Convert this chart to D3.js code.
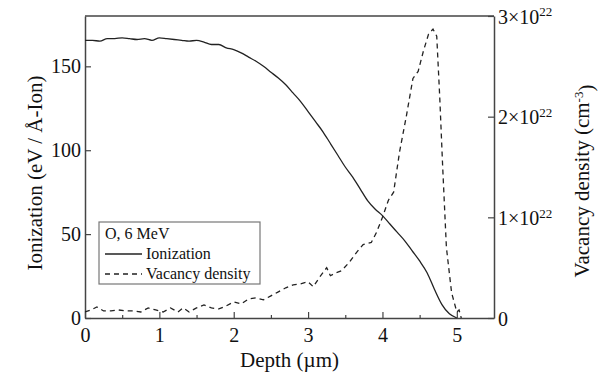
<!DOCTYPE html>
<html>
<head>
<meta charset="utf-8">
<script src="https://cdn.jsdelivr.net/npm/d3@7"></script>
<style>
  body { margin: 0; background: #fff; }
  svg { display: block; }
  svg text { font-family: "Liberation Serif", "DejaVu Serif", serif; }
</style>
</head>
<body>
<div id="chart"></div>
<script>
// ionization (eV / Å-Ion) vs depth (µm)
const ionDepth = [0, 0.1, 0.2, 0.3, 0.4, 0.5, 0.6, 0.7, 0.8, 0.9, 1.0, 1.1, 1.2, 1.3, 1.4, 1.5, 1.6, 1.7, 1.8, 1.9,
   2.0, 2.1, 2.2, 2.3, 2.4, 2.5, 2.6, 2.7, 2.8, 2.9, 3.0, 3.1, 3.2, 3.3, 3.4, 3.5, 3.6, 3.7, 3.8, 3.9,
   4.0, 4.1, 4.2, 4.3, 4.4, 4.5, 4.6, 4.7, 4.8, 4.9, 5.0];
const ionValue = [165.5, 165.5, 165, 166.5, 166.5, 167, 166.5, 166, 166.5, 165.5, 167, 166.5, 166, 165.5, 165, 165.5, 164.5, 163, 163, 161,
   160, 158, 155.5, 153, 150, 146.5, 143, 139, 134, 129, 123, 117, 111, 104, 97, 90, 84, 77, 70, 65,
   61, 56, 51, 46, 40, 34, 27, 17, 8, 2.5, 0];

// vacancy density (x 1e22 cm^-3) vs depth (µm)
const vacDepth = [0, 0.08, 0.16, 0.25, 0.35, 0.45, 0.55, 0.65, 0.75, 0.85, 0.95, 1.05, 1.15, 1.25, 1.32, 1.4, 1.5, 1.6, 1.7, 1.8, 1.9,
   2.0, 2.1, 2.2, 2.3, 2.4, 2.5, 2.6, 2.7, 2.8, 2.9, 3.0, 3.07, 3.15, 3.25, 3.3, 3.38, 3.45, 3.55, 3.65, 3.74, 3.85, 3.92,
   4.0, 4.08, 4.15, 4.23, 4.32, 4.41, 4.48, 4.55, 4.62, 4.68, 4.73, 4.77, 4.81, 4.86, 4.93, 5.0, 5.03, 5.06];
const vacValue = [0.06, 0.08, 0.11, 0.07, 0.07, 0.08, 0.07, 0.07, 0.06, 0.1, 0.08, 0.06, 0.1, 0.06, 0.1, 0.06, 0.1, 0.13, 0.1, 0.09, 0.12,
   0.16, 0.14, 0.19, 0.2, 0.18, 0.22, 0.26, 0.3, 0.33, 0.34, 0.36, 0.31, 0.4, 0.5, 0.42, 0.45, 0.47, 0.55, 0.65, 0.73, 0.75, 0.85,
   1.0, 1.17, 1.25, 1.65, 2.0, 2.38, 2.45, 2.65, 2.82, 2.87, 2.8, 2.2, 1.5, 0.7, 0.25, 0.06, 0.08, 0];

const xTicks = [0, 1, 2, 3, 4, 5];
const xMinorTicks = [0.5, 1.5, 2.5, 3.5, 4.5];
const yLeftTicks = [0, 50, 100, 150];
const yRightTicks = [0, 1, 2, 3];

const width = 598, height = 378;
const margin = { top: 16, right: 104, bottom: 60, left: 85 };
const axisColor = "#444";
const lineColor = "#222";
const serif = '"Liberation Serif", "DejaVu Serif", serif';

const svg = d3.select("#chart").append("svg")
   .attr("width", width)
   .attr("height", height);

const x = d3.scaleLinear().domain([0, 5.5]).range([margin.left, width - margin.right]);
const yL = d3.scaleLinear().domain([0, 180]).range([height - margin.bottom, margin.top]);
const yR = d3.scaleLinear().domain([0, 3]).range([height - margin.bottom, margin.top]);

const x0 = margin.left, x1 = width - margin.right;
const yb = height - margin.bottom, yt = margin.top;

// frame top
svg.append("line")
   .attr("x1", x0).attr("x2", x1).attr("y1", yt).attr("y2", yt)
   .attr("stroke", axisColor).attr("stroke-width", 1.5);

const styleAxis = g => {
   g.select(".domain").attr("stroke", axisColor).attr("stroke-width", 1.5);
   g.selectAll(".tick line").attr("stroke", axisColor).attr("stroke-width", 1.2);
   g.selectAll(".tick text").attr("fill", "#111")
      .style("font-family", serif)
      .style("font-size", "20px");
};

// bottom axis (inward ticks)
svg.append("g")
   .attr("transform", `translate(0,${yb})`)
   .call(d3.axisBottom(x).tickValues(xTicks).tickSizeInner(-6).tickSizeOuter(0).tickPadding(10).tickFormat(d3.format("d")))
   .call(styleAxis);

svg.append("g")
   .attr("transform", `translate(0,${yb})`)
   .call(d3.axisBottom(x).tickValues(xMinorTicks).tickSize(-3).tickFormat(""))
   .call(g => g.select(".domain").remove())
   .call(g => g.selectAll(".tick line").attr("stroke", axisColor).attr("stroke-width", 1.2));

// left axis
svg.append("g")
   .attr("transform", `translate(${x0},0)`)
   .call(d3.axisLeft(yL).tickValues(yLeftTicks).tickSizeInner(-6).tickSizeOuter(0).tickPadding(4))
   .call(styleAxis);

// right axis
const rightAxis = svg.append("g")
   .attr("transform", `translate(${x1},0)`)
   .call(d3.axisRight(yR).tickValues(yRightTicks).tickSizeInner(-6).tickSizeOuter(0).tickPadding(4).tickFormat(""))
   .call(styleAxis);

rightAxis.selectAll(".tick text").each(function (d) {
   const t = d3.select(this).attr("dy", "0.35em");
   if (d === 0) {
      t.text("0");
   } else {
      t.text(`${d}×10`);
      t.append("tspan").attr("dy", "-0.55em").style("font-size", "13px").text("22");
   }
});

// axis titles
svg.append("text")
   .attr("x", (x0 + x1) / 2).attr("y", 367)
   .attr("text-anchor", "middle")
   .style("font-size", "21px").attr("fill", "#111")
   .text("Depth (µm)");

svg.append("text")
   .attr("transform", "translate(42,173) rotate(-90)")
   .attr("text-anchor", "middle")
   .style("font-size", "21px").attr("fill", "#111")
   .text("Ionization (eV / Å-Ion)");

const rt = svg.append("text")
   .attr("transform", "translate(589,181) rotate(-90)")
   .attr("text-anchor", "middle")
   .style("font-size", "21px").attr("fill", "#111");
rt.append("tspan").text("Vacancy density (cm");
rt.append("tspan").attr("dy", "-0.5em").style("font-size", "13px").text("-3");
rt.append("tspan").attr("dy", "0.5em").text(")");

// curves
const ionLine = d3.line().curve(d3.curveMonotoneX).x(i => x(ionDepth[i])).y(i => yL(ionValue[i]));
svg.append("path")
   .attr("d", ionLine(d3.range(ionDepth.length)))
   .attr("fill", "none").attr("stroke", lineColor).attr("stroke-width", 1.3)
   .attr("stroke-linejoin", "round");

const vacLine = d3.line().x(i => x(vacDepth[i])).y(i => yR(vacValue[i]));
svg.append("path")
   .attr("d", vacLine(d3.range(vacDepth.length)))
   .attr("fill", "none").attr("stroke", lineColor).attr("stroke-width", 1.3)
   .attr("stroke-dasharray", "5,4");

// legend
const lg = svg.append("g").attr("transform", "translate(99,222)");
lg.append("rect")
   .attr("width", 161).attr("height", 62)
   .attr("fill", "#fff").attr("stroke", "#777").attr("stroke-width", 1.2);
lg.append("text").attr("x", 6).attr("y", 17).style("font-size", "16px").attr("fill", "#111").text("O, 6 MeV");
const legendItems = [["Ionization", null, 37], ["Vacancy density", "5,4", 57]];
legendItems.forEach(([label, dash, yy]) => {
   lg.append("line")
      .attr("x1", 6).attr("x2", 43).attr("y1", yy - 5).attr("y2", yy - 5)
      .attr("stroke", lineColor).attr("stroke-width", 1.3)
      .attr("stroke-dasharray", dash);
   lg.append("text").attr("x", 47).attr("y", yy).style("font-size", "16px").attr("fill", "#111").text(label);
});
</script>
</body>
</html>
